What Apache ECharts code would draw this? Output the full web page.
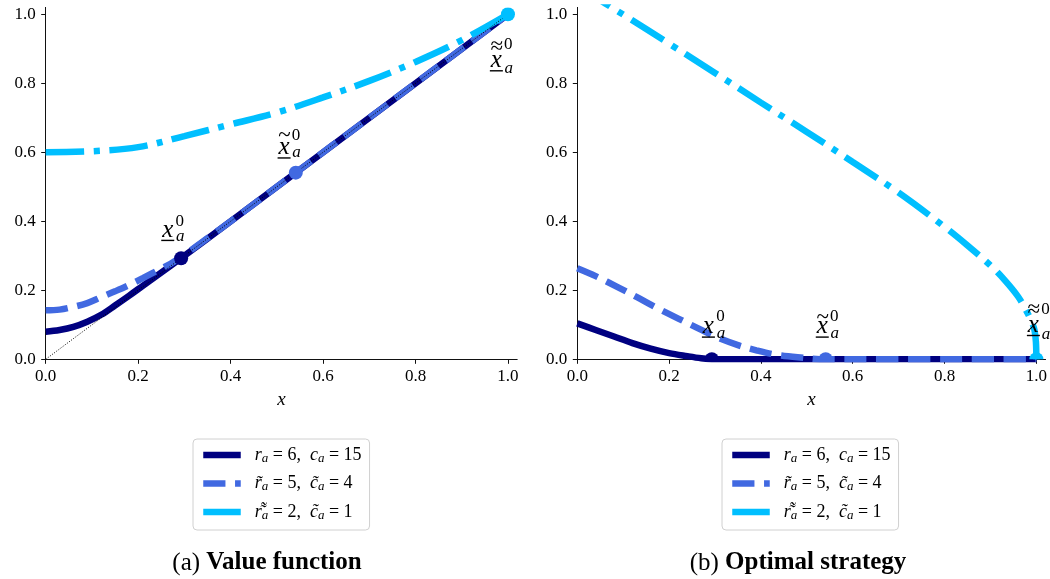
<!DOCTYPE html>
<html>
<head>
<meta charset="utf-8">
<script src="https://cdn.jsdelivr.net/npm/echarts@6/dist/echarts.min.js"></script>
<style>html,body{margin:0;padding:0;background:#fff}#c{width:1050px;height:579px}</style>
</head>
<body>
<div id="c"></div>
<script>
// ---------------- data ----------------
const tickVals = [0, 0.2, 0.4, 0.6, 0.8, 1.0];
const seriesNames = ['r6c15', 'r5c4', 'r2c1'];

// (a) value function
const vfX_r6 = [0, 0.03, 0.06, 0.09, 0.12, 0.15, 0.18, 0.21, 0.24, 0.27, 0.293, 0.4, 0.6, 0.8, 1.0];
const vfY_r6 = [0.080, 0.085, 0.094, 0.109, 0.129, 0.156, 0.184, 0.213, 0.242, 0.271, 0.293, 0.4, 0.6, 0.8, 1.0];
const vfX_r5 = [0, 0.03, 0.06, 0.09, 0.12, 0.15, 0.18, 0.21, 0.24, 0.27, 0.30, 0.35, 0.4, 0.541, 0.7, 0.85, 1.0];
const vfY_r5 = [0.142, 0.144, 0.152, 0.163, 0.180, 0.197, 0.215, 0.235, 0.256, 0.277, 0.303, 0.351, 0.4, 0.541, 0.7, 0.85, 1.0];
const vfX_r2 = [0, 0.1, 0.2, 0.3, 0.4, 0.5, 0.6, 0.7, 0.8, 0.9, 1.0];
const vfY_r2 = [0.600, 0.603, 0.615, 0.647, 0.681, 0.715, 0.759, 0.807, 0.862, 0.925, 1.0];
const diagX = [0, 1];
const diagY = [0, 1];

// (b) optimal strategy
const stX_r6 = [0, 0.04, 0.08, 0.12, 0.16, 0.20, 0.24, 0.27, 0.293, 1.0];
const stY_r6 = [0.104, 0.085, 0.066, 0.047, 0.031, 0.018, 0.009, 0.003, 0, 0];
const stX_r5 = [0, 0.04, 0.09, 0.13, 0.17, 0.22, 0.26, 0.30, 0.35, 0.39, 0.43, 0.48, 0.543, 1.0];
const stY_r5 = [0.264, 0.241, 0.208, 0.180, 0.151, 0.118, 0.092, 0.066, 0.041, 0.026, 0.014, 0.006, 0, 0];
const stX_r2 = [0, 0.1, 0.2, 0.3, 0.4, 0.5, 0.6, 0.7, 0.8, 0.85, 0.9, 0.93, 0.96, 0.98, 0.99, 0.996, 0.999, 1.0];
const stY_r2 = [1.082, 0.999, 0.915, 0.830, 0.744, 0.659, 0.572, 0.483, 0.384, 0.330, 0.272, 0.231, 0.182, 0.136, 0.108, 0.084, 0.050, 0];

// thresholds x_a^0 (navy), x~_a^0 (blue), x~~_a^0 (cyan)
const thrX = [0.293, 0.541, 1.0];
const thrValue = [0.293, 0.541, 1.0];
const thrStrategy = [0, 0, 0];

// ---------------- styling ----------------
const FF = '"Liberation Serif", "DejaVu Serif", serif';
const colors = ['#000080', '#4169E1', '#00BFFF'];
const LW = 6.5;
const lineStyles = [
  {color: colors[0], width: LW, cap: 'butt'},
  {color: colors[1], width: LW, type: [22.2, 9.6], cap: 'butt'},
  {color: colors[2], width: LW, type: [38.4, 9.6, 6, 9.6], cap: 'butt'}
];
const legendText = {
  r6c15: '{g| }{v|r}{s|a}{n| = 6,  }{v|c}{s|a}{n| = 15}',
  r5c4: '{g| }{v|r\u0303}{s|a}{n| = 5,  }{v|c\u0303}{s|a}{n| = 4}',
  r2c1: '{g| }{v|r\u034C}{s|a}{n| = 2,  }{v|c\u0303}{s|a}{n| = 1}'
};
const legRich = {
  g: {width: 9},
  v: {fontFamily: FF, fontStyle: 'italic', fontSize: 18, lineHeight: 20, color: '#000'},
  s: {fontFamily: FF, fontStyle: 'italic', fontSize: 13, lineHeight: 10, verticalAlign: 'bottom', color: '#000'},
  n: {fontFamily: FF, fontSize: 18, lineHeight: 20, color: '#000'}
};
// label layout per threshold, per panel: offset of the x glyph centre from the dot
const lblOffA = [[-13.4, -26.6], [-11.7, -23.5], [-11.6, 47.7]];
const lblOffB = [[-3.4, -31], [-3.4, -31], [-3, -32.6]];
const supDyA = [-10.5, -13.4, -17.4];
const supDyB = [-11.6, -11.6, -17.4];
const subDyA = [6.0, 5.2, 8.3];
const subDyB = [6.7, 6.7, 9.3];
const tildeTxt = ['', '~', '\u2248'];
const tildeDyA = [0, -13.4, -15.5];
const tildeDyB = [0, -10.5, -16.7];

function pairs(xs, ys) { return xs.map((x, i) => [x, ys[i]]); }

function curve(name, xs, ys, k, gi) {
  return {
    type: 'line', name: name, xAxisIndex: gi, yAxisIndex: gi,
    data: pairs(xs, ys), smooth: 0.35, symbol: 'none', showSymbol: false,
    clip: true, lineStyle: lineStyles[k], z: 2 + k, silent: true
  };
}

function dots(gi, ys) {
  return {
    type: 'custom', xAxisIndex: gi, yAxisIndex: gi, clip: true, silent: true, z: 10,
    data: thrX.map((x, i) => [x, ys[i], i]),
    renderItem: function (params, api) {
      const p = api.coord([api.value(0), api.value(1)]);
      return {type: 'circle', shape: {cx: p[0], cy: p[1], r: 7}, style: {fill: colors[api.value(2)]}};
    }
  };
}

function labels(gi, ys, off, supDy, subDy, tilDy) {
  return {
    type: 'custom', xAxisIndex: gi, yAxisIndex: gi, clip: false, silent: true, z: 12,
    data: thrX.map((x, i) => [x, ys[i], i]),
    renderItem: function (params, api) {
      const i = api.value(2);
      const p = api.coord([api.value(0), api.value(1)]);
      const ch = [
        {type: 'text', x: 0, y: -1.5, style: {text: 'x', font: 'italic 25px ' + FF, fill: '#000', align: 'center', verticalAlign: 'middle'}},
        {type: 'line', shape: {x1: -6.5, y1: 8.8, x2: 6.5, y2: 8.8}, style: {stroke: '#000', lineWidth: 1.4}},
        {type: 'text', x: 12, y: supDy[i], style: {text: '0', font: '17px ' + FF, fill: '#000', align: 'center', verticalAlign: 'middle'}},
        {type: 'text', x: 12.5, y: subDy[i] - 1.5, style: {text: 'a', font: 'italic 17px ' + FF, fill: '#000', align: 'center', verticalAlign: 'middle'}}
      ];
      if (tildeTxt[i]) {
        ch.push({type: 'text', x: 0.5, y: tilDy[i], style: {text: tildeTxt[i], font: '23px ' + FF, fill: '#000', align: 'center', verticalAlign: 'middle'}});
      }
      return {type: 'group', x: p[0] + off[i][0], y: p[1] + off[i][1], children: ch};
    }
  };
}

function xAx(gi) {
  return {
    type: 'value', gridIndex: gi, min: 0, max: 1.02,
    name: 'x', nameLocation: 'middle', nameGap: 31,
    nameTextStyle: {fontFamily: FF, fontStyle: 'italic', fontSize: 19, color: '#000'},
    axisLine: {show: true, onZero: false, lineStyle: {color: '#111', width: 1}},
    axisTick: {show: true, length: 4.5, customValues: tickVals, lineStyle: {color: '#111', width: 1}},
    axisLabel: {customValues: tickVals, margin: 9, fontFamily: FF, fontSize: 17, color: '#000',
      formatter: v => v.toFixed(1)},
    splitLine: {show: false}
  };
}
function yAx(gi) {
  return {
    type: 'value', gridIndex: gi, min: 0, max: 1.02,
    axisLine: {show: true, onZero: false, lineStyle: {color: '#111', width: 1}},
    axisTick: {show: true, length: 4.5, customValues: tickVals, lineStyle: {color: '#111', width: 1}},
    axisLabel: {customValues: tickVals, margin: 10, fontFamily: FF, fontSize: 17, color: '#000',
      formatter: v => v.toFixed(1)},
    splitLine: {show: false}
  };
}
function legend(left) {
  return {
    left: left, top: 439, orient: 'vertical', selectedMode: false,
    itemWidth: 37.5, itemHeight: 14, itemGap: 9.5, padding: [7, 8, 8, 7],
    backgroundColor: '#fff', borderColor: '#d0d0d0', borderWidth: 1, borderRadius: 4,
    data: seriesNames.slice(),
    itemStyle: {opacity: 0},
    lineStyle: {width: LW},
    formatter: name => legendText[name],
    textStyle: {fontFamily: FF, fontSize: 18, color: '#000', rich: legRich}
  };
}

const chart = echarts.init(document.getElementById('c'));
chart.setOption({
  animation: false,
  textStyle: {fontFamily: FF},
  grid: [
    {left: 45.7, top: 7.4, width: 471.5, height: 351.9},
    {left: 577.3, top: 7.4, width: 468.9, height: 351.9}
  ],
  xAxis: [xAx(0), xAx(1)],
  yAxis: [yAx(0), yAx(1)],
  legend: [legend(193), legend(722)],
  series: [
    curve(seriesNames[0], vfX_r6, vfY_r6, 0, 0),
    curve(seriesNames[1], vfX_r5, vfY_r5, 1, 0),
    curve(seriesNames[2], vfX_r2, vfY_r2, 2, 0),
    {type: 'line', name: 'diagonal', xAxisIndex: 0, yAxisIndex: 0, data: pairs(diagX, diagY),
      symbol: 'none', silent: true, z: 6, lineStyle: {color: '#000', width: 1, type: [1, 1.65]}},
    dots(0, thrValue),
    labels(0, thrValue, lblOffA, supDyA, subDyA, tildeDyA),
    curve(seriesNames[0], stX_r6, stY_r6, 0, 1),
    curve(seriesNames[1], stX_r5, stY_r5, 1, 1),
    curve(seriesNames[2], stX_r2, stY_r2, 2, 1),
    dots(1, thrStrategy),
    labels(1, thrStrategy, lblOffB, supDyB, subDyB, tildeDyB)
  ],
  graphic: [
    {type: 'text', x: 267, y: 563, style: {text: '(a) {b|Value function}', font: '25px ' + FF, fill: '#000',
      align: 'center', verticalAlign: 'middle', rich: {b: {fontFamily: FF, fontSize: 25, fontWeight: 'bold', fill: '#000'}}}},
    {type: 'text', x: 798, y: 563, style: {text: '(b) {b|Optimal strategy}', font: '25px ' + FF, fill: '#000',
      align: 'center', verticalAlign: 'middle', rich: {b: {fontFamily: FF, fontSize: 25, fontWeight: 'bold', fill: '#000'}}}}
  ]
});
</script>
</body>
</html>
